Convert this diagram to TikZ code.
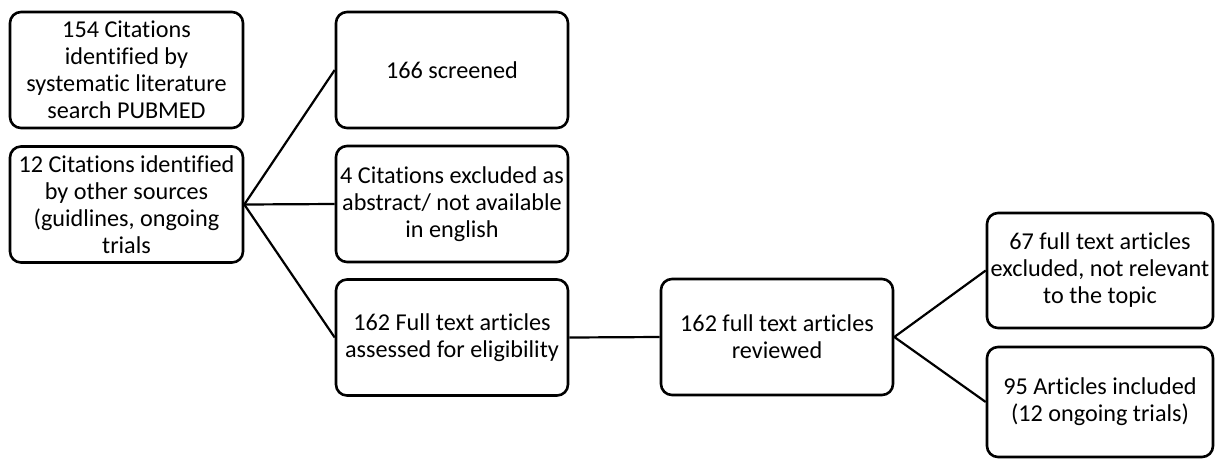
\documentclass[tikz,border=0pt]{standalone}
\usepackage{fontspec}
\setmainfont{Carlito}[Ligatures=NoCommon]
\usepackage{tikz}
\usetikzlibrary{positioning}

\begin{document}
\begin{tikzpicture}[x=1pt, y=-1pt,
  flowbox/.style={draw=black, line width=2.6pt, rounded corners=11pt, fill=white,
    align=center, inner sep=2pt, minimum width=233pt, minimum height=116pt,
    font=\fontsize{24.2}{27}\selectfont},
  link/.style={draw=black, line width=2.2pt}]
  \useasboundingbox (0,0) rectangle (1217,459);

  % Sources
  \node[flowbox] (pubmed) at (126.5, 70) {154 Citations\\identified by\\systematic literature\\search PUBMED};
  \node[flowbox] (other) at (126.5, 204.5) {12 Citations identified\\by other sources\\(guidlines, ongoing\\trials};

  % Screening
  \node[flowbox, minimum width=232pt] (screened) at (452, 70) {166 screened};
  \node[flowbox, minimum width=232pt] (excluded) at (452, 204) {4 Citations excluded as\\abstract/ not available\\in english};
  \node[flowbox, minimum width=232pt] (assessed) at (452, 337.5) {162 Full text articles\\assessed for eligibility};

  % Review
  \node[flowbox, minimum width=232pt] (reviewed) at (777, 337) {162 full text articles\\reviewed};
  \node[flowbox, minimum width=226pt, minimum height=115pt] (notrel) at (1100, 270.5) {67 full text articles\\excluded, not relevant\\to the topic};
  \node[flowbox, minimum width=226pt, minimum height=110pt] (included) at (1100, 402) {95 Articles included\\(12 ongoing trials)};

  % Connectors
  \draw[link] (other.east) -- (screened.west);
  \draw[link] (other.east) -- (excluded.west);
  \draw[link] (other.east) -- (assessed.west);
  \draw[link] (assessed.east) -- (reviewed.west);
  \draw[link] (reviewed.east) -- (notrel.west);
  \draw[link] (reviewed.east) -- (included.west);
\end{tikzpicture}
\end{document}
